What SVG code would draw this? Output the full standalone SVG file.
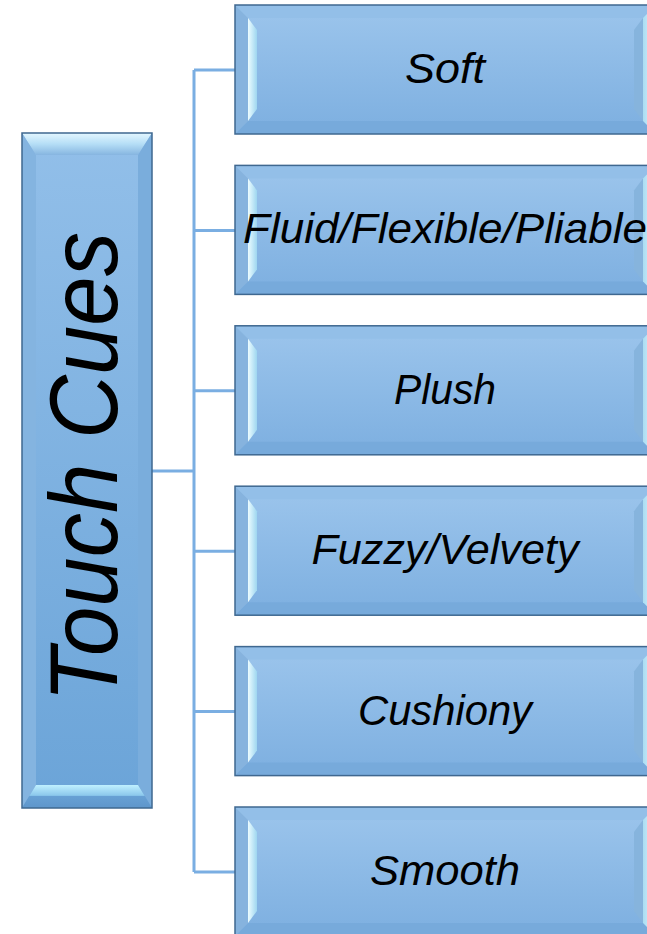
<svg xmlns="http://www.w3.org/2000/svg" width="647" height="934" viewBox="0 0 647 934">
  <defs>
    <linearGradient id="boxFill" x1="0" y1="0" x2="0" y2="1">
      <stop offset="0" stop-color="#9cc5ec"/>
      <stop offset="1" stop-color="#7dafe0"/>
    </linearGradient>
    <linearGradient id="mainFill" x1="0" y1="0" x2="0" y2="1">
      <stop offset="0" stop-color="#92bfe9"/>
      <stop offset="1" stop-color="#6ba4d8"/>
    </linearGradient>
    <linearGradient id="leftGlow" x1="0" y1="0" x2="1" y2="0">
      <stop offset="0" stop-color="#ecfcff"/>
      <stop offset="1" stop-color="#9ed6f0"/>
    </linearGradient>
    <linearGradient id="rightGlow" x1="0" y1="0" x2="1" y2="0">
      <stop offset="0" stop-color="#a9dcf2"/>
      <stop offset="1" stop-color="#e2f9ff"/>
    </linearGradient>
    <linearGradient id="mainTop" x1="0" y1="0" x2="0" y2="1">
      <stop offset="0" stop-color="#e4f7ff"/>
      <stop offset="0.5" stop-color="#b5def6"/>
      <stop offset="1" stop-color="#86b5e0"/>
    </linearGradient>
    <linearGradient id="mainBottom" x1="0" y1="0" x2="0" y2="1">
      <stop offset="0" stop-color="#bff0ff"/>
      <stop offset="0.45" stop-color="#8cc8ec"/>
      <stop offset="0.5" stop-color="#67a0d4"/>
      <stop offset="1" stop-color="#5e96cb"/>
    </linearGradient>
  </defs>
  <style>
    .frame { stroke: #3f6890; stroke-width: 1.5; }
    .box { fill: url(#boxFill); }
    .main { fill: url(#mainFill); }
    .topBand { fill: #93bfe8; }
    .sideL { fill: #86b3de; }
    .sideR { fill: #86b4dd; }
    .botBand { fill: #77aadb; }
    .glowL { fill: url(#leftGlow); }
    .glowR { fill: url(#rightGlow); }
    .label { font-family: "Liberation Sans", Arial, sans-serif; font-style: italic; font-size: 42px; fill: #000; text-anchor: middle; }
    .title { font-family: "Liberation Sans", Arial, sans-serif; font-style: italic; font-size: 96px; fill: #000; text-anchor: middle; }
    .wire { stroke: #7aaee2; stroke-width: 3; fill: none; }
  </style>

  <!-- connectors -->
  <g id="connectors">
    <path class="wire" d="M152 471 H194"/>
    <path class="wire" d="M194 70 V872"/>
    <path class="wire" d="M194 70 H235"/>
    <path class="wire" d="M194 230.4 H235"/>
    <path class="wire" d="M194 390.8 H235"/>
    <path class="wire" d="M194 551.2 H235"/>
    <path class="wire" d="M194 711.6 H235"/>
    <path class="wire" d="M194 872 H235"/>
  </g>

  <!-- root node -->
  <g id="touch-cues">
    <rect class="main" x="22" y="133" width="130" height="675"/>
    <polygon fill="url(#mainTop)" points="22,133 152,133 138,155 36,155"/>
    <polygon fill="#84b4e0" points="22,133 36,155 36,785 22,808"/>
    <polygon fill="#7aaddc" points="152,133 138,155 138,785 152,808"/>
    <polygon fill="url(#mainBottom)" points="36,785 138,785 152,808 22,808"/>
    <rect x="22" y="133" width="130" height="675" fill="none" class="frame"/>
    <text class="title" transform="translate(117,467) rotate(-90)" x="0" y="0" textLength="470" lengthAdjust="spacingAndGlyphs">Touch Cues</text>
  </g>

  <!-- leaf nodes -->
  <g id="soft" transform="translate(235,5)">
    <rect class="box" width="421" height="129"/>
    <polygon class="topBand" points="0,0 421,0 408,13 13,13"/>
    <polygon class="botBand" points="13,116 408,116 421,129 0,129"/>
    <polygon class="sideL" points="0,0 13,13 13,116 0,129"/>
    <polygon class="glowL" points="13,13 22,25 22,104 13,116"/>
    <polygon class="sideR" points="399,25 408,13 408,116 399,104"/>
    <polygon class="glowR" points="408,13 421,0 421,129 408,116"/>
    <rect width="421" height="129" fill="none" class="frame"/>
    <text class="label" x="210" y="78" textLength="80" lengthAdjust="spacingAndGlyphs">Soft</text>
  </g>

  <g id="fluid" transform="translate(235,165.4)">
    <rect class="box" width="421" height="129"/>
    <polygon class="topBand" points="0,0 421,0 408,13 13,13"/>
    <polygon class="botBand" points="13,116 408,116 421,129 0,129"/>
    <polygon class="sideL" points="0,0 13,13 13,116 0,129"/>
    <polygon class="glowL" points="13,13 22,25 22,104 13,116"/>
    <polygon class="sideR" points="399,25 408,13 408,116 399,104"/>
    <polygon class="glowR" points="408,13 421,0 421,129 408,116"/>
    <rect width="421" height="129" fill="none" class="frame"/>
    <text class="label" x="210" y="78" textLength="404" lengthAdjust="spacingAndGlyphs">Fluid/Flexible/Pliable</text>
  </g>

  <g id="plush" transform="translate(235,325.8)">
    <rect class="box" width="421" height="129"/>
    <polygon class="topBand" points="0,0 421,0 408,13 13,13"/>
    <polygon class="botBand" points="13,116 408,116 421,129 0,129"/>
    <polygon class="sideL" points="0,0 13,13 13,116 0,129"/>
    <polygon class="glowL" points="13,13 22,25 22,104 13,116"/>
    <polygon class="sideR" points="399,25 408,13 408,116 399,104"/>
    <polygon class="glowR" points="408,13 421,0 421,129 408,116"/>
    <rect width="421" height="129" fill="none" class="frame"/>
    <text class="label" x="210" y="78" textLength="102" lengthAdjust="spacingAndGlyphs">Plush</text>
  </g>

  <g id="fuzzy" transform="translate(235,486.2)">
    <rect class="box" width="421" height="129"/>
    <polygon class="topBand" points="0,0 421,0 408,13 13,13"/>
    <polygon class="botBand" points="13,116 408,116 421,129 0,129"/>
    <polygon class="sideL" points="0,0 13,13 13,116 0,129"/>
    <polygon class="glowL" points="13,13 22,25 22,104 13,116"/>
    <polygon class="sideR" points="399,25 408,13 408,116 399,104"/>
    <polygon class="glowR" points="408,13 421,0 421,129 408,116"/>
    <rect width="421" height="129" fill="none" class="frame"/>
    <text class="label" x="210" y="78" textLength="267" lengthAdjust="spacingAndGlyphs">Fuzzy/Velvety</text>
  </g>

  <g id="cushiony" transform="translate(235,646.6)">
    <rect class="box" width="421" height="129"/>
    <polygon class="topBand" points="0,0 421,0 408,13 13,13"/>
    <polygon class="botBand" points="13,116 408,116 421,129 0,129"/>
    <polygon class="sideL" points="0,0 13,13 13,116 0,129"/>
    <polygon class="glowL" points="13,13 22,25 22,104 13,116"/>
    <polygon class="sideR" points="399,25 408,13 408,116 399,104"/>
    <polygon class="glowR" points="408,13 421,0 421,129 408,116"/>
    <rect width="421" height="129" fill="none" class="frame"/>
    <text class="label" x="210" y="78" textLength="174" lengthAdjust="spacingAndGlyphs">Cushiony</text>
  </g>

  <g id="smooth" transform="translate(235,807)">
    <rect class="box" width="421" height="129"/>
    <polygon class="topBand" points="0,0 421,0 408,13 13,13"/>
    <polygon class="botBand" points="13,116 408,116 421,129 0,129"/>
    <polygon class="sideL" points="0,0 13,13 13,116 0,129"/>
    <polygon class="glowL" points="13,13 22,25 22,104 13,116"/>
    <polygon class="sideR" points="399,25 408,13 408,116 399,104"/>
    <polygon class="glowR" points="408,13 421,0 421,129 408,116"/>
    <rect width="421" height="129" fill="none" class="frame"/>
    <text class="label" x="210" y="78" textLength="150" lengthAdjust="spacingAndGlyphs">Smooth</text>
  </g>
</svg>
